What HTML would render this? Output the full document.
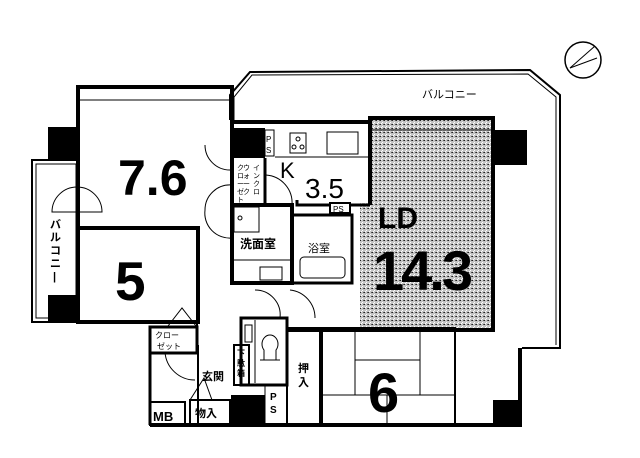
<!DOCTYPE html>
<html><head><meta charset="utf-8"><style>
html,body{margin:0;padding:0;background:#fff;}
svg{display:block}
text{font-family:"Liberation Sans","Noto Sans CJK JP",sans-serif;fill:#000}
</style></head><body>
<svg width="640" height="458" viewBox="0 0 640 458" xmlns="http://www.w3.org/2000/svg">
<defs>
<pattern id="st" width="4" height="4" patternUnits="userSpaceOnUse">
<rect width="4" height="4" fill="#c4c4c4"/><rect x="0" y="0" width="1" height="1" fill="#222"/><rect x="2" y="2" width="1" height="1" fill="#fff"/><rect x="3" y="0" width="1" height="1" fill="#555"/><rect x="1" y="3" width="1" height="1" fill="#fff"/>
</pattern>
</defs>
<polyline points="230,120 230,95 250,72 530,70 560,95 560,348 522,348" fill="none" stroke="#000" stroke-width="2"/>
<polyline points="234,120 234,97 252,75 528,74 556,97 556,345" fill="none" stroke="#000" stroke-width="1"/>
<circle cx="583" cy="60" r="18" fill="none" stroke="#000" stroke-width="1.5"/>
<line x1="570" y1="68" x2="595" y2="46" stroke="#000"/><line x1="570" y1="68" x2="597" y2="58" stroke="#000"/>
<text x="422" y="98" font-size="11">バルコニー</text>
<rect x="372" y="120" width="120" height="210" fill="url(#st)"/>
<rect x="360" y="203" width="14" height="127" fill="url(#st)"/>
<path d="M370,205 V118 H493 V330 H287" fill="none" stroke="#000" stroke-width="4"/>
<line x1="372" y1="130" x2="492" y2="130" stroke="#000"/>
<rect x="493" y="130" width="34" height="35" fill="#000"/>
<text x="378" y="228" font-size="30" font-weight="bold">LD</text>
<text x="373" y="290" font-size="56" font-weight="bold" letter-spacing="-3">14.3</text>
<path d="M78,228 V87 H232 V230" fill="none" stroke="#000" stroke-width="4"/>
<line x1="80" y1="100" x2="230" y2="100" stroke="#000"/>
<rect x="48" y="127" width="30" height="33" fill="#000"/>
<text x="118" y="195" font-size="50" font-weight="bold">7.6</text>
<polyline points="78,160 32,160 32,322 78,322" fill="none" stroke="#000" stroke-width="2"/>
<rect x="36" y="164" width="40" height="154" fill="none" stroke="#000"/>
<g font-size="11" font-weight="bold"><text x="50" y="228">バ</text><text x="50" y="241">ル</text><text x="50" y="254">コ</text><text x="50" y="267">ニ</text><text x="53" y="280">|</text></g>
<path d="M52,212 A25,25 0 0 1 102,212 Z" fill="none" stroke="#000"/>
<path d="M78,228 H198 V322 H78 Z" fill="none" stroke="#000" stroke-width="4"/>
<rect x="48" y="295" width="30" height="27" fill="#000"/>
<text x="115" y="300" font-size="55" font-weight="bold">5</text>
<path d="M232,122 H370" stroke="#000" stroke-width="4"/>
<rect x="232" y="128" width="33" height="30" fill="#000"/>
<rect x="265" y="130" width="9" height="26" fill="none" stroke="#000"/>
<text x="266" y="142" font-size="8">P</text><text x="266" y="153" font-size="8">S</text>
<rect x="290" y="133" width="16" height="20" fill="none" stroke="#000"/>
<circle cx="298" cy="139" r="2" fill="none" stroke="#000"/><circle cx="294" cy="147" r="2" fill="none" stroke="#000"/><circle cx="302" cy="147" r="2" fill="none" stroke="#000"/>
<rect x="327" y="132" width="31" height="22" fill="none" stroke="#000"/>
<line x1="275" y1="157" x2="370" y2="157" stroke="#000"/>
<text x="280" y="178" font-size="22">K</text>
<text x="305" y="198" font-size="28">3.5</text>
<path d="M265,158 V205 M297,200 V205 H370" fill="none" stroke="#000" stroke-width="3"/>
<rect x="330" y="203" width="20" height="10" fill="#fff" stroke="#000" stroke-width="2"/>
<text x="333" y="212" font-size="8">PS</text>
<g font-size="7"><text x="243" y="170">ウ</text><text x="243" y="178">ォ</text><text x="243" y="186">ー</text><text x="243" y="194">ク</text>
<text x="253" y="170">イ</text><text x="253" y="178">ン</text><text x="253" y="186">ク</text><text x="253" y="194">ロ</text>
<text x="237" y="170">ク</text><text x="237" y="178">ロ</text><text x="237" y="186">ー</text><text x="237" y="194">ゼ</text><text x="237" y="202">ト</text></g>
<path d="M266,175 A28,28 0 0 1 292,205" fill="none" stroke="#000"/>
<rect x="232" y="205" width="60" height="78" fill="none" stroke="#000" stroke-width="4"/>
<rect x="234" y="207" width="25" height="25" fill="none" stroke="#000"/>
<circle cx="240" cy="218" r="2" fill="none" stroke="#000"/>
<line x1="234" y1="260" x2="290" y2="260" stroke="#000"/>
<rect x="260" y="267" width="22" height="13" fill="none" stroke="#000"/>
<text x="240" y="248" font-size="12" font-weight="bold">洗面室</text>
<rect x="292" y="215" width="60" height="68" fill="none" stroke="#000" stroke-width="3"/>
<rect x="300" y="257" width="45" height="21" rx="4" fill="none" stroke="#000"/>
<text x="308" y="252" font-size="11">浴室</text>
<path d="M205,210 A25,25 0 0 1 232,185" fill="none" stroke="#000"/>
<path d="M205,210 A25,25 0 0 0 232,238" fill="none" stroke="#000"/>
<path d="M205,145 A25,25 0 0 0 230,170" fill="none" stroke="#000"/>
<rect x="150" y="327" width="47" height="26" fill="none" stroke="#000" stroke-width="3"/>
<text x="155" y="338" font-size="8">クロー</text><text x="157" y="349" font-size="8">ゼット</text>
<path d="M168,326 L182,308 L196,326" fill="none" stroke="#000"/>
<path d="M197,322 V327 M198,345 V425" stroke="#000" stroke-width="2"/>
<rect x="241" y="318" width="46" height="67" fill="none" stroke="#000" stroke-width="3"/>
<line x1="255" y1="320" x2="255" y2="383" stroke="#000"/>
<path d="M264,360 V350 a8,9 0 1 1 12,0 V360 Z" fill="none" stroke="#000"/>
<line x1="260" y1="360" x2="280" y2="360" stroke="#000"/>
<rect x="245" y="325" width="7" height="17" fill="none" stroke="#000"/>
<rect x="234" y="345" width="15" height="40" fill="none" stroke="#000" stroke-width="2"/>
<g font-size="8" font-weight="bold"><text x="237" y="356">下</text><text x="237" y="366">駄</text><text x="237" y="376">箱</text></g>
<text x="202" y="380" font-size="11" font-weight="bold">玄関</text>
<path d="M190,400 L204,378 L212,400" fill="none" stroke="#000"/>
<rect x="150" y="402" width="35" height="23" fill="none" stroke="#000" stroke-width="2"/>
<text x="153" y="421" font-size="13" font-weight="bold">MB</text>
<rect x="190" y="400" width="40" height="25" fill="none" stroke="#000" stroke-width="2"/>
<text x="195" y="417" font-size="11" font-weight="bold">物入</text>
<rect x="231" y="395" width="34" height="30" fill="#000"/>
<text x="270" y="400" font-size="10" font-weight="bold">P</text><text x="270" y="413" font-size="10" font-weight="bold">S</text>
<line x1="265" y1="385" x2="265" y2="425" stroke="#000"/>
<rect x="287" y="328" width="33" height="97" fill="none" stroke="#000" stroke-width="2"/>
<text x="298" y="372" font-size="11" font-weight="bold">押</text><text x="298" y="386" font-size="11" font-weight="bold">入</text>
<rect x="322" y="328" width="133" height="97" fill="none" stroke="#000" stroke-width="2"/>
<path d="M355,330 V395 M355,360 H420 M420,330 V395 M322,395 H455 M387,395 V425" fill="none" stroke="#000"/>
<text x="368" y="412" font-size="56" font-weight="bold">6</text>
<path d="M150,425 H520 V348" fill="none" stroke="#000" stroke-width="4"/>
<rect x="493" y="400" width="28" height="25" fill="#000"/>
<path d="M150,352 V425" stroke="#000" stroke-width="3"/>
<path d="M165,352 A30,30 0 0 0 195,380" fill="none" stroke="#000"/>
<path d="M255,290 A25,25 0 0 1 280,318 M290,290 A28,28 0 0 1 315,318" fill="none" stroke="#000"/>
</svg>
</body></html>
